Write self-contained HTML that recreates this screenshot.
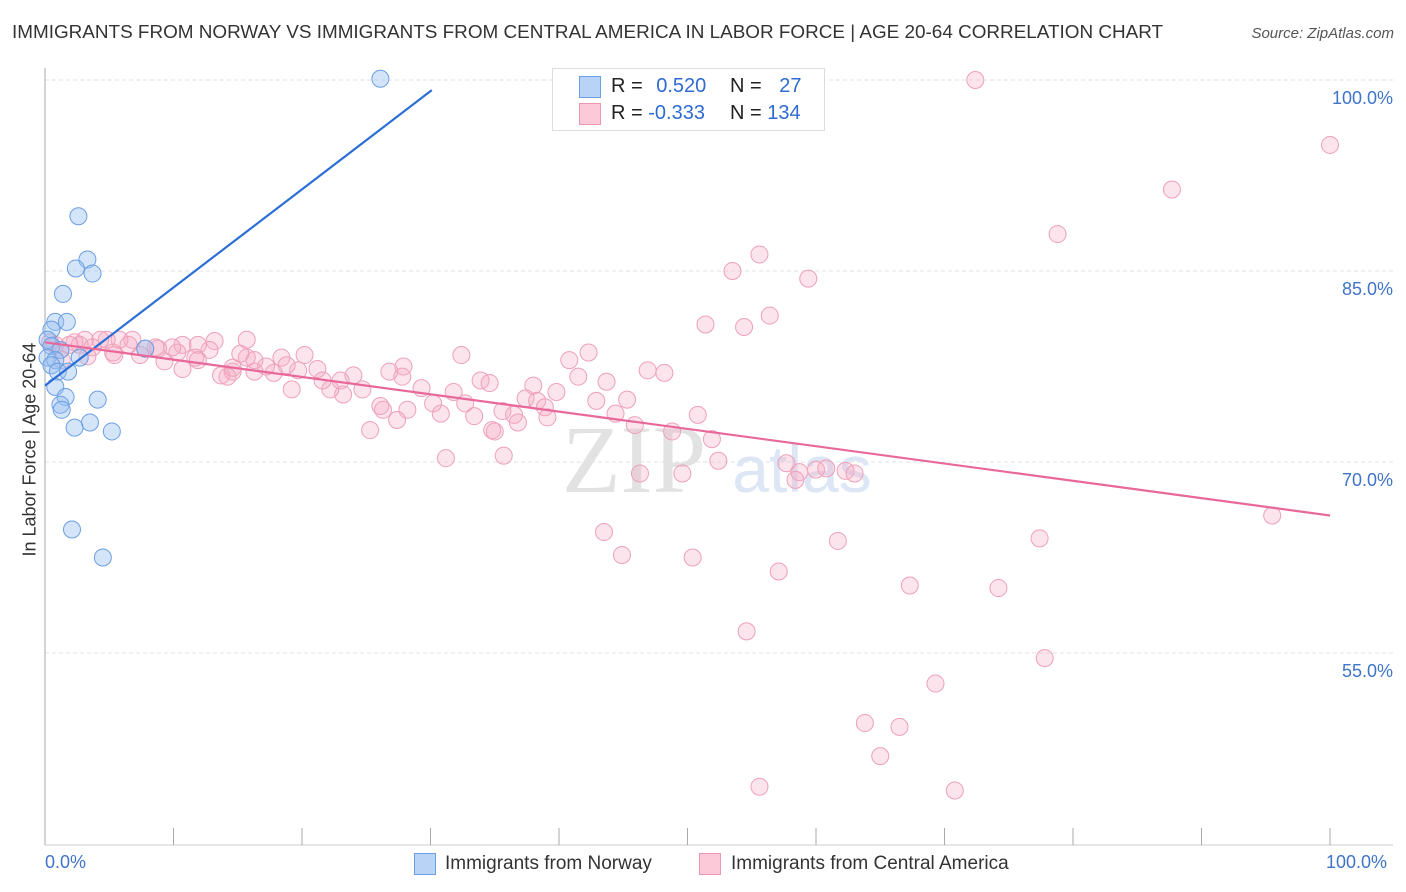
<!DOCTYPE html>
<html><head><meta charset="utf-8">
<style>
body{margin:0;background:#fff;font-family:"Liberation Sans",sans-serif;}
#wrap{position:relative;width:1406px;height:892px;overflow:hidden;}
.t{position:absolute;white-space:nowrap;}
</style></head>
<body>
<div id="wrap">
<div class="t" style="left:12px;top:22px;font-size:18.9px;color:#333;">IMMIGRANTS FROM NORWAY VS IMMIGRANTS FROM CENTRAL AMERICA IN LABOR FORCE | AGE 20-64 CORRELATION CHART</div>
<div class="t" style="right:12px;top:25px;font-size:15px;color:#555;font-style:italic;">Source: ZipAtlas.com</div>
<svg id="svg" width="1406" height="892" style="position:absolute;left:0;top:0"></svg>
</div>
<script>
const xTicks=[0,10,20,30,40,50,60,70,80,90,100];
const yTicks=[100,85,70,55];
const yTickLabels=["100.0%","85.0%","70.0%","55.0%"];
const norwayX=[26.1,2.6,3.3,2.4,3.7,1.4,0.8,1.7,0.5,0.2,0.5,1.2,0.2,0.8,2.7,0.5,1.0,1.8,0.8,1.6,1.2,1.3,4.1,3.5,2.3,5.2,2.1,4.5,7.8];
const norwayY=[100.1,89.3,85.9,85.2,84.8,83.2,81.0,81.0,80.4,79.6,79.1,78.8,78.2,78.0,78.2,77.6,77.1,77.1,75.9,75.1,74.5,74.1,74.9,73.1,72.7,72.4,64.7,62.5,78.9];
const camX=[72.4,100,87.7,78.8,55.6,53.5,59.4,51.4,54.4,56.4,42.3,40.8,32.4,41.5,43.7,46.9,48.2,45.3,42.9,39.8,38.0,37.4,38.3,38.9,39.1,36.5,35.6,34.8,33.4,33.9,34.6,31.8,32.7,30.8,30.2,29.3,27.9,26.8,27.8,28.2,27.4,26.3,26.1,25.3,24.7,24.0,23.0,23.2,22.2,21.6,21.2,20.2,19.7,19.2,18.4,18.8,17.8,17.2,16.3,15.7,15.2,14.6,14.2,15.7,13.7,13.2,12.8,11.9,11.7,10.7,10.3,9.9,9.3,8.8,8.6,7.8,7.4,6.8,6.5,5.8,5.4,4.8,4.3,3.7,3.1,2.7,2.3,1.9,1.2,0.8,0.4,1.3,3.3,5.3,10.7,11.9,16.3,14.6,31.2,35.7,35.0,36.8,44.4,45.9,48.8,50.8,51.9,52.4,46.3,49.6,57.7,58.7,58.4,60.0,60.8,62.3,63.0,43.5,44.9,50.4,57.1,61.7,67.3,74.2,77.4,54.6,77.8,69.3,63.8,66.5,65.0,55.6,70.8,95.5,47.6,49.6];
const camY=[100,94.9,91.4,87.9,86.3,85.0,84.4,80.8,80.6,81.5,78.6,78.0,78.4,76.7,76.3,77.2,77.0,74.9,74.8,75.5,76.0,75.0,74.8,74.3,73.5,73.7,74.0,72.5,73.6,76.4,76.2,75.5,74.6,73.8,74.6,75.8,77.5,77.1,76.7,74.1,73.3,74.1,74.4,72.5,75.7,76.8,76.4,75.3,75.7,76.4,77.3,78.4,77.2,75.7,78.2,77.6,77.0,77.5,77.1,78.2,78.5,77.1,76.7,79.6,76.8,79.5,78.8,79.2,78.2,79.2,78.6,79.0,77.9,78.9,79.0,78.9,78.4,79.6,79.2,79.6,78.4,79.6,79.6,79.0,79.6,79.2,79.4,79.2,78.8,79.2,79.4,78.0,78.3,78.6,77.3,78.0,78.0,77.4,70.3,70.5,72.4,73.1,73.8,72.9,72.4,73.7,71.8,70.1,69.1,69.1,69.9,69.2,68.6,69.4,69.5,69.3,69.1,64.5,62.7,62.5,61.4,63.8,60.3,60.1,64.0,56.7,54.6,52.6,49.5,49.2,46.9,44.5,44.2,65.8,100,100];
const norwayFit=[[0,76.0],[30.1,99.2]];
const camFit=[[0,79.4],[100,65.8]];
const L=45,R=1330,T=80,B=653;
const xs=v=>L+(R-L)*v/100;
const ys=v=>T+(B-T)*(100-v)/45;
const NS="http://www.w3.org/2000/svg";
const svg=document.getElementById('svg');
function mk(tag,attrs){const e=document.createElementNS(NS,tag);for(const k in attrs)e.setAttribute(k,attrs[k]);svg.appendChild(e);return e;}
yTicks.forEach((v,i)=>{
 const g=mk('line',{x1:L,x2:1393,y1:ys(v),y2:ys(v),stroke:'#e2e2e2','stroke-dasharray':'4,3'});
 
 
 const t=mk('text',{x:1393,y:ys(v)+24,'text-anchor':'end','font-size':18,fill:'#3f74c9','font-family':'Liberation Sans, sans-serif'});
 t.textContent=yTickLabels[i];
 
 
});
const ax=mk('line',{x1:L,x2:L,y1:68,y2:845,stroke:'#aaa'});


const bx=mk('line',{x1:L,x2:1393,y1:845,y2:845,stroke:'#ccc'});


xTicks.forEach(v=>{const tk=mk('line',{x1:xs(v),x2:xs(v),y1:828,y2:845,stroke:'#aaa'});
 
 });
const wm=mk('text',{x:634,y:492,'text-anchor':'middle','font-size':96,fill:'#e2e2e2','font-family':'Liberation Serif, serif'});
wm.textContent='ZIP';


const wm2=mk('text',{x:802,y:492,'text-anchor':'middle','font-size':66,fill:'#dce6f5','font-family':'Liberation Sans, sans-serif'});
wm2.textContent='atlas';


camX.forEach((x,i)=>{const c=mk('circle',{cx:xs(x),cy:ys(camY[i]),r:8.5,fill:'rgba(245,170,195,0.32)',stroke:'#eea0ba','stroke-width':1});
 
 });
norwayX.forEach((x,i)=>{const c=mk('circle',{cx:xs(x),cy:ys(norwayY[i]),r:8.5,fill:'rgba(150,190,240,0.4)',stroke:'#6a9fe4','stroke-width':1});
 
 });
const l1=mk('line',{x1:xs(norwayFit[0][0]),y1:ys(norwayFit[0][1]),x2:xs(norwayFit[1][0]),y2:ys(norwayFit[1][1]),stroke:'#2b6fd4','stroke-width':2.2});


const l2=mk('line',{x1:xs(camFit[0][0]),y1:ys(camFit[0][1]),x2:xs(camFit[1][0]),y2:ys(camFit[1][1]),stroke:'#e8689a','stroke-width':2.2});


</script>
<div class="t" style="left:-70px;top:446px;transform:rotate(-90deg);font-size:18px;color:#333;width:200px;text-align:center;">In Labor Force | Age 20-64</div>
<div style="position:absolute;left:552px;top:68px;width:271px;height:61px;background:#fff;border:1px solid #ddd;font-size:20px;color:#222;">
 <div style="position:absolute;left:26px;top:7px;width:20px;height:20px;background:#b9d3f6;border:1px solid #6b9ee6;"></div>
 <div class="t" style="left:58px;top:6px;">R = <span style="color:#2f6bd0;margin-left:8px;">0.520</span></div>
 <div class="t" style="left:177px;top:6px;">N = <span style="color:#2f6bd0;margin-left:12px;">27</span></div>
 <div style="position:absolute;left:26px;top:34px;width:20px;height:20px;background:#fbc9d8;border:1px solid #ec96b2;"></div>
 <div class="t" style="left:58px;top:33px;">R = <span style="color:#2f6bd0;">-0.333</span></div>
 <div class="t" style="left:177px;top:33px;">N = <span style="color:#2f6bd0;">134</span></div>
</div>
<div class="t" style="left:45px;top:852px;font-size:18px;color:#3f74c9;">0.0%</div>
<div class="t" style="left:1326px;top:852px;font-size:18px;color:#3f74c9;">100.0%</div>
<div style="position:absolute;left:414px;top:853px;width:20px;height:20px;background:#b9d3f6;border:1px solid #6b9ee6;"></div>
<div class="t" style="left:445px;top:853px;font-size:19px;color:#333;">Immigrants from Norway</div>
<div style="position:absolute;left:699px;top:853px;width:20px;height:20px;background:#fbc9d8;border:1px solid #ec96b2;"></div>
<div class="t" style="left:731px;top:853px;font-size:19px;color:#333;">Immigrants from Central America</div>
</body></html>
